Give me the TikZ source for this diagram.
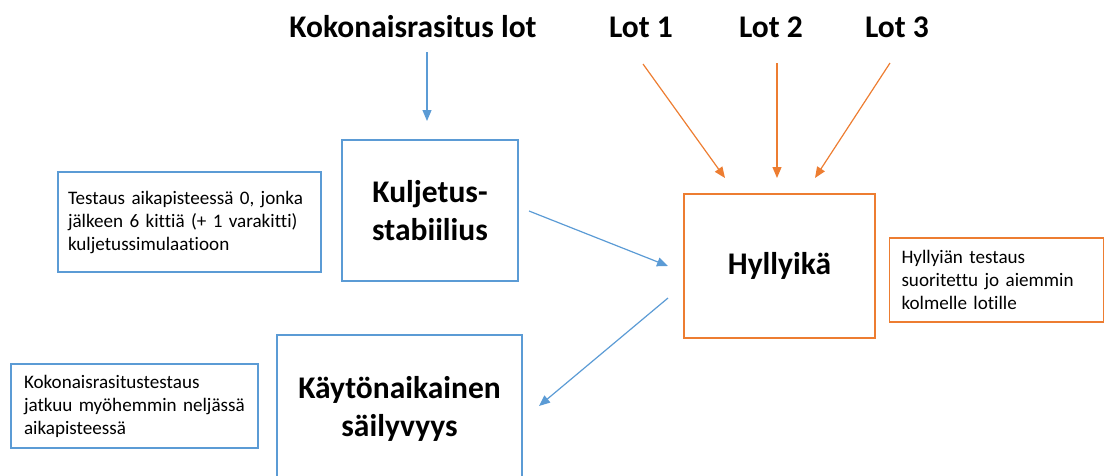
\documentclass[tikz,border=0pt]{standalone}
\usepackage{fontspec}
\setmainfont{Carlito}[Ligatures=CommonOff]
\usetikzlibrary{arrows.meta}
\definecolor{boxblue}{RGB}{91,155,213}
\definecolor{boxorange}{RGB}{237,125,49}

\begin{document}
\begin{tikzpicture}[x=1pt,y=-1pt,
    head/.style={font=\fontsize{31.5}{36}\selectfont\bfseries,inner sep=0pt},
    bigbox/.style={draw=#1,line width=1.3pt,align=center,inner sep=0pt,
        font=\fontsize{31.5}{38}\selectfont\bfseries},
    notebox/.style={draw=#1,line width=1.1pt,align=left,inner xsep=10pt,
        inner ysep=0pt,font=\fontsize{19.1}{23}\selectfont},
    link/.style={draw=#1,line width=1.2pt,-{Triangle[length=11pt,width=9pt]}}]

        \useasboundingbox (0,0) rectangle (1104,475);

        \node[head] (koko) at (413,27) {Kokonaisrasitus lot};
        \node[head] (lot1) at (641,27) {Lot 1};
        \node[head] (lot2) at (771,27) {Lot 2};
        \node[head] (lot3) at (897,27) {Lot 3};

        \node[bigbox=boxblue,minimum width=176,minimum height=141] (kulj) at (430,210.5) {Kuljetus-\\stabiilius};
        \node[bigbox=boxorange,minimum width=191,minimum height=144] (hyll) at (779.5,266) {Hyllyikä};
        \node[bigbox=boxblue,minimum width=245,minimum height=148] (kayt) at (399.5,409) {Käytönaikainen\\säilyvyys};

        \node[notebox=boxblue,text width=243,minimum height=100] (testaus) at (189.5,222) {\mbox{Testaus aikapisteessä 0, jonka}\\\mbox{jälkeen 6 kittiä (+ 1 varakitti)}\\kuljetussimulaatioon};
        \node[notebox=boxorange,text width=190,minimum height=84,inner xsep=12pt] (hyltest) at (996.5,280) {Hyllyiän testaus\\\mbox{suoritettu jo aiemmin}\\kolmelle lotille};
        \node[notebox=boxblue,text width=221,minimum height=84,inner xsep=13pt] (jatkuu) at (134.5,406) {\mbox{Kokonaisrasitustestaus}\\\mbox{jatkuu myöhemmin neljässä}\\aikapisteessä};

        \coordinate (kokoA) at (427,52);
        \coordinate (kokoB) at (427,121);
        \coordinate (lot1A) at (643,64);
        \coordinate (lot1B) at (725,178);
        \coordinate (lot2A) at (777,63);
        \coordinate (lot2B) at (777,178);
        \coordinate (lot3A) at (890,63);
        \coordinate (lot3B) at (815,178);
        \coordinate (kuljA) at (529,211);
        \coordinate (kuljB) at (668,266);
        \coordinate (hyllA) at (668,298);
        \coordinate (hyllB) at (539,406);

        \draw[link=boxblue] (kokoA) -- (kokoB);
        \draw[link=boxorange] (lot1A) -- (lot1B);
        \draw[link=boxorange] (lot2A) -- (lot2B);
        \draw[link=boxorange] (lot3A) -- (lot3B);
        \draw[link=boxblue] (kuljA) -- (kuljB);
        \draw[link=boxblue] (hyllA) -- (hyllB);
\end{tikzpicture}
\end{document}
